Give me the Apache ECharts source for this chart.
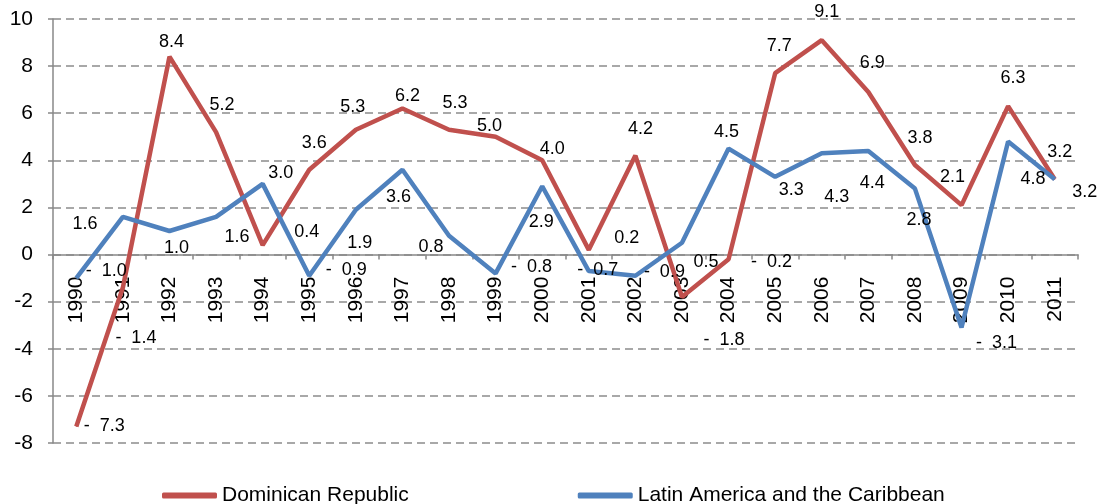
<!DOCTYPE html>
<html>
<head>
<meta charset="utf-8">
<script src="https://cdn.jsdelivr.net/npm/echarts@6/dist/echarts.min.js"></script>
<style>
  html, body { margin: 0; padding: 0; background: #fff; }
  #chart { width: 1102px; height: 504px; }
</style>
</head>
<body>
<div id="chart"></div>
<script>
// data
var years = ['1990', '1991', '1992', '1993', '1994', '1995', '1996', '1997', '1998', '1999', '2000',
             '2001', '2002', '2003', '2004', '2005', '2006', '2007', '2008', '2009', '2010', '2011'];
var dominican = [-7.3, -1.4, 8.4, 5.2, 0.4, 3.6, 5.3, 6.2, 5.3, 5.0, 4.0,
                 0.2, 4.2, -1.8, -0.2, 7.7, 9.1, 6.9, 3.8, 2.1, 6.3, 3.2];
var latam = [-1.0, 1.6, 1.0, 1.6, 3.0, -0.9, 1.9, 3.6, 0.8, -0.8, 2.9,
             -0.7, -0.9, 0.5, 4.5, 3.3, 4.3, 4.4, 2.8, -3.1, 4.8, 3.2];
var yTicks = [-8, -6, -4, -2, 0, 2, 4, 6, 8, 10];

// where each data label sits relative to its point (the excel labels were dragged around)
var redOffsets = [[28, 0], [13, 50], [2, -15], [6, -27], [44, -13], [5, -27], [-3, -23], [5, -12],
                  [6, -27], [-6, -11], [10, -11], [38, -12], [5, -27], [42, 43], [43, 3], [4, -27],
                  [5, -28], [4, -29], [5, -27], [-9, -28], [5, -28], [5, -27]];
var blueOffsets = [[30, -7], [-38, 7], [7, 17], [21, 20], [18, -11], [37, -6], [4, 33], [-4, 27],
                   [-18, 11], [36, -6], [-1, 36], [9, -1], [29, -4], [24, 19], [-2, -17], [16, 13],
                   [15, 44], [4, 32], [4, 31], [35, 15], [25, 38], [30, 13]];

var FONT = '"Liberation Sans", Arial, sans-serif';
var GRID_TOP = 19, GRID_BOTTOM = 443;
var yMin = yTicks[0], yMax = yTicks[yTicks.length - 1];
// category axis sits on the zero line, labels hang just under it
var zeroY = GRID_TOP + (GRID_BOTTOM - GRID_TOP) * yMax / (yMax - yMin);

function fmt(v) {
  return v < 0 ? '-  ' + Math.abs(v).toFixed(1) : v.toFixed(1);
}

function withLabels(values, offsets) {
  return values.map(function (v, i) {
    return { value: v, label: { offset: offsets[i] } };
  });
}

var myChart = echarts.init(document.getElementById('chart'));
var option = {
  animation: false,
  backgroundColor: '#fff',
  grid: { left: 53, right: 24, top: GRID_TOP, bottom: 504 - GRID_BOTTOM, containLabel: false, outerBoundsMode: 'none' },
  legend: {
    left: 157,
    top: 480,
    icon: 'roundRect',
    itemWidth: 55,
    itemHeight: 6,
    itemGap: 169,
    itemStyle: { borderWidth: 0 },
    lineStyle: { width: 0 },
    textStyle: { fontFamily: FONT, fontSize: 21, color: '#000' },
    data: ['Dominican Republic', 'Latin America and the Caribbean']
  },
  xAxis: {
    type: 'category',
    data: years,
    boundaryGap: true,
    position: 'bottom',
    offset: -(GRID_BOTTOM - zeroY),
    axisLine: { onZero: false, lineStyle: { color: '#888', width: 1.5 } },
    axisTick: { show: true, length: 5, lineStyle: { color: '#888', width: 1.5 } },
    axisLabel: { rotate: 90, margin: 22, fontFamily: FONT, fontSize: 21, color: '#000' },
    splitLine: { show: false }
  },
  yAxis: {
    type: 'value',
    min: yMin,
    max: yMax,
    interval: 2,
    axisLine: { show: true, lineStyle: { color: '#888', width: 1.5 } },
    axisTick: { show: true, length: 5, lineStyle: { color: '#888', width: 1.5 } },
    axisLabel: { margin: 20, fontFamily: FONT, fontSize: 21, color: '#000' },
    splitLine: { show: true, lineStyle: { color: '#8c8c8c', width: 1.5, type: [8, 5] } }
  },
  series: [
    {
      name: 'Dominican Republic',
      type: 'line',
      data: withLabels(dominican, redOffsets),
      symbol: 'circle',
      symbolSize: 1,
      showSymbol: true,
      itemStyle: { color: '#C0504D' },
      lineStyle: { color: '#C0504D', width: 4.5 },
      label: {
        show: true, position: 'inside', fontFamily: FONT, fontSize: 18, color: '#000',
        formatter: function (p) { return fmt(p.value); }
      },
      emphasis: { disabled: true }
    },
    {
      name: 'Latin America and the Caribbean',
      type: 'line',
      data: withLabels(latam, blueOffsets),
      symbol: 'circle',
      symbolSize: 1,
      showSymbol: true,
      itemStyle: { color: '#4F81BD' },
      lineStyle: { color: '#4F81BD', width: 4.5 },
      label: {
        show: true, position: 'inside', fontFamily: FONT, fontSize: 18, color: '#000',
        formatter: function (p) { return fmt(p.value); }
      },
      emphasis: { disabled: true }
    }
  ]
};
myChart.setOption(option);
</script>
</body>
</html>
